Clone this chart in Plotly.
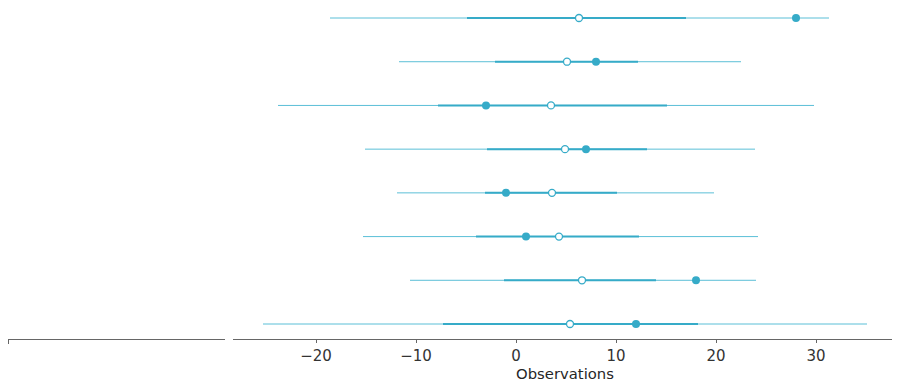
import plotly.graph_objects as go

schools = ["Choate", "Deerfield", "Phillips Andover", "Phillips Exeter",
           "Hotchkiss", "Lawrenceville", "St. Paul's", "Mt. Hermon"]
observed = [28.0, 8.0, -3.0, 7.0, -1.0, 1.0, 18.0, 12.0]
pred_mean = [6.3, 5.1, 3.5, 4.9, 3.6, 4.3, 6.6, 5.4]
hdi94_low = [-18.6, -11.7, -23.8, -15.1, -11.9, -15.3, -10.6, -25.3]
hdi94_high = [31.3, 22.5, 29.8, 23.9, 19.8, 24.2, 24.0, 35.1]
iqr_low = [-4.9, -2.1, -7.8, -2.9, -3.1, -4.0, -1.2, -7.3]
iqr_high = [17.0, 12.2, 15.1, 13.1, 10.1, 12.3, 14.0, 18.2]
x_ticks = [-20, -10, 0, 10, 20, 30]

thin_color = "#5bbfd7"
thick_color = "#36abc8"

fig = go.Figure()
n = len(schools)
for i in range(n):
    yv = n - 1 - i
    fig.add_trace(go.Scatter(x=[hdi94_low[i], hdi94_high[i]], y=[yv, yv], mode="lines",
                             line=dict(color=thin_color, width=1), showlegend=False,
                             xaxis="x2", yaxis="y2", hoverinfo="skip"))
    fig.add_trace(go.Scatter(x=[iqr_low[i], iqr_high[i]], y=[yv, yv], mode="lines",
                             line=dict(color=thick_color, width=2), showlegend=False,
                             xaxis="x2", yaxis="y2", hoverinfo="skip"))
    fig.add_trace(go.Scatter(x=[observed[i]], y=[yv], mode="markers",
                             marker=dict(color=thick_color, size=8, line=dict(width=0)),
                             showlegend=False, xaxis="x2", yaxis="y2", name=schools[i]))
    fig.add_trace(go.Scatter(x=[pred_mean[i]], y=[yv], mode="markers",
                             marker=dict(color="white", size=7, line=dict(color=thick_color, width=1.3)),
                             showlegend=False, xaxis="x2", yaxis="y2", name=schools[i]))

# empty left panel
fig.add_trace(go.Scatter(x=[None], y=[None], xaxis="x", yaxis="y", showlegend=False))

W = 892.0
fig.update_layout(
    width=892, height=375,
    margin=dict(l=0, r=0, t=0, b=44),
    paper_bgcolor="white", plot_bgcolor="white",
    font=dict(family="DejaVu Sans", color="#333333"),
    xaxis=dict(domain=[0, 217 / W], range=[0, 1], showgrid=False, zeroline=False,
               showline=True, linecolor="#666666", linewidth=1.2, automargin=False,
               tickvals=[0], ticktext=[""], ticks="outside", ticklen=4, tickcolor="#666666"),
    yaxis=dict(domain=[0, 1], anchor="x", range=[-0.343, 7.229], visible=False),
    xaxis2=dict(domain=[225 / W, 889 / W], range=[-28.3, 38.1], anchor="y2", automargin=False,
                showgrid=False, zeroline=False, showline=True, linecolor="#666666", linewidth=1.2,
                tickvals=x_ticks, ticks="outside", ticklen=3, tickcolor="#666666",
                tickfont=dict(size=15, color="#333333"),
                title=dict(text="Observations", font=dict(size=14.8, color="#262626"), standoff=0)),
    yaxis2=dict(domain=[0, 1], anchor="x2", range=[-0.343, 7.229], visible=False),
)

fig.write_html("out.html")
